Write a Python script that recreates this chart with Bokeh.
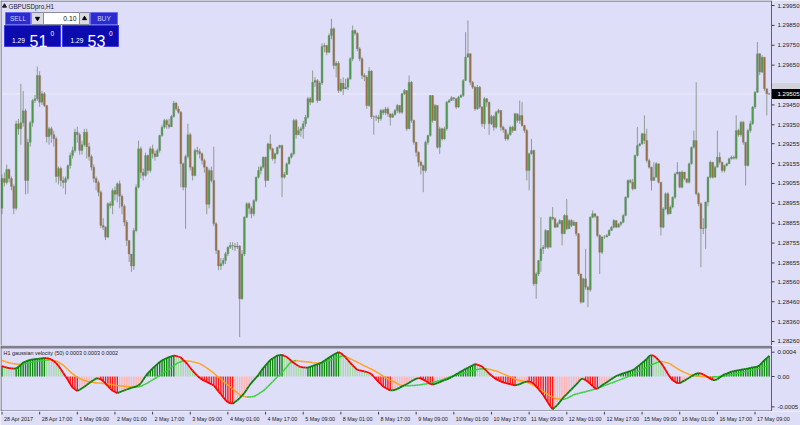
import numpy as np
from bokeh.plotting import figure
from bokeh.models import Range1d
from bokeh.layouts import column
from bokeh.core.properties import value
from bokeh.embed import file_html
from bokeh.resources import INLINE

# ---------------- data ----------------
symbol_title = "GBPUSDpro,H1"
indicator_title = "H1 gaussian velocity (50) 0.0003 0.0003 0.0002"
lot_size = "0.10"
quote_prefix = "1.29"
sell_big = "51"
buy_big = "53"
quote_suffix = "0"
bid_price = 1.29505

time_labels = ["28 Apr 2017", "28 Apr 17:00", "1 May 09:00", "2 May 01:00", "2 May 17:00",
               "3 May 09:00", "4 May 01:00", "4 May 17:00", "5 May 09:00", "8 May 01:00",
               "8 May 17:00", "9 May 09:00", "10 May 01:00", "10 May 17:00", "11 May 09:00",
               "12 May 01:00", "12 May 17:00", "15 May 09:00", "16 May 01:00", "16 May 17:00",
               "17 May 09:00"]
bars_per_label = 16

price_ticks = [1.29950, 1.29850, 1.29750, 1.29650, 1.29550, 1.29450, 1.29350, 1.29255, 1.29155,
               1.29055, 1.28955, 1.28855, 1.28755, 1.28655, 1.28560, 1.28460, 1.28360, 1.28260]
vel_ticks = [0.0004, 0.0, -0.0005]
vel_tick_labels = ["0.0004", "0.00", "-0.0005"]

# prices in points above 1.28000
base_price = 1.28
first_open_pts = 930
close_pts = [
    1080, 1060, 1125, 1080, 1040, 930, 1355, 1330, 1360, 1420, 1070, 1262, 1360, 1472, 1481, 1598,
    1464, 1506, 1447, 1290, 1330, 1300, 1280, 1090, 1130, 1070, 1060, 1080, 1145, 1196, 1221, 1313,
    1300, 1221, 1250, 1313, 1240, 1190, 1137, 1080, 1060, 1011, 844, 835, 785, 953, 944, 1020, 1000,
    1053, 990, 940, 860, 768, 700,
    640, 818, 1036, 1229, 1110, 1095, 1196, 1120, 1229, 1204, 1190, 1221, 1296, 1338, 1372, 1350,
    1340, 1392, 1459, 1430, 1413, 1154, 1036, 1190, 1300, 1137, 1095, 1221, 1215, 1204, 1170, 1137,
    950, 1120, 1070, 852, 718, 640, 651, 667, 701, 734, 743, 740, 735, 740, 475, 700, 885, 953, 930,
    902, 969, 1086, 1120,
    1137, 1187, 1070, 1254, 1229, 1179, 1204, 1237, 1246, 1086, 1100, 1154, 1187, 1204, 1372, 1300,
    1321, 1330, 1355, 1388, 1481, 1464, 1564, 1573, 1472, 1560, 1744, 1749, 1715, 1799, 1833, 1648,
    1660, 1522, 1560, 1530, 1539, 1581, 1682, 1824, 1810, 1732, 1682, 1598, 1590, 1447, 1620, 1390,
    1390, 1388, 1380, 1422, 1410, 1430, 1405,
    1388, 1402, 1422, 1447, 1413, 1506, 1522, 1330, 1564, 1372, 1262, 1212, 1162, 1145, 1120, 1262,
    1296, 1497, 1372, 1447, 1237, 1330, 1279, 1330, 1464, 1472, 1486, 1481, 1439, 1489, 1497, 1573,
    1690, 1707, 1564, 1539, 1430, 1539, 1439, 1355, 1481, 1464, 1355, 1392, 1338, 1413, 1422, 1338,
    1325, 1279, 1300, 1338, 1321, 1405,
    1372, 1397, 1346, 1321, 1120, 1204, 1221, 550, 600, 667, 726, 734, 818, 734, 885, 877, 835, 852,
    868, 802, 894, 827, 868, 844, 860, 802, 600, 458, 575, 533, 520, 885, 902, 890, 793, 709, 785,
    785, 793, 818, 835, 868, 835, 850, 860, 894, 986, 1070, 1061, 1028, 1196, 1246, 1254, 1305,
    1271, 1170, 1137, 1070, 1086, 1154, 1061, 835, 927, 1003, 902, 936, 986, 1103, 1112, 1036, 1112,
    1078, 1061, 1154, 1237, 1271, 1003, 953, 827, 830, 961, 1086, 1162, 1086, 1137, 1187, 1162, 1120,
    1145, 1154, 1179, 1187, 1182, 1321, 1300, 1363, 1262, 1145, 1321, 1355, 1439, 1514, 1707, 1615,
    1690, 1531, 1506, 1505]
high_pts = [
    1100, 1110, 1150, 1130, 1090, 1050, 1370, 1380, 1556, 1520, 1430, 1280, 1370, 1480, 1500, 1643,
    1620, 1520, 1515, 1450, 1340, 1340, 1320, 1290, 1140, 1140, 1090, 1090, 1150, 1210, 1240, 1330,
    1340, 1310, 1270, 1330, 1330, 1260, 1200, 1150, 1090, 1070, 1020, 880, 840, 960, 965, 1030, 1040,
    1060, 1070, 1000, 950, 870, 770,
    700, 830, 1050, 1271, 1240, 1130, 1210, 1200, 1240, 1250, 1220, 1230, 1300, 1350, 1380, 1380,
    1380, 1400, 1470, 1465, 1445, 1420, 1160, 1200, 1355, 1310, 1140, 1230, 1240, 1230, 1210, 1180,
    1140, 1130, 1140, 1240, 860, 720, 680, 680, 710, 740, 760, 760, 755, 760, 745, 720, 890, 960,
    960, 940, 975, 1090, 1140,
    1145, 1190, 1190, 1260, 1301, 1235, 1210, 1240, 1250, 1250, 1112, 1160, 1190, 1210, 1380, 1380,
    1340, 1340, 1370, 1400, 1490, 1490, 1623, 1590, 1580, 1570, 1760, 1760, 1750, 1810, 1883, 1840,
    1670, 1670, 1581, 1589, 1581, 1590, 1690, 1849, 1830, 1815, 1740, 1690, 1610, 1600, 1640, 1625,
    1397, 1400, 1400, 1430, 1430, 1440, 1440,
    1400, 1410, 1430, 1455, 1450, 1510, 1530, 1525, 1598, 1570, 1375, 1265, 1215, 1170, 1150, 1270,
    1300, 1500, 1500, 1455, 1450, 1340, 1335, 1340, 1470, 1480, 1495, 1490, 1485, 1495, 1505, 1580,
    1816, 1875, 1710, 1570, 1545, 1550, 1545, 1445, 1490, 1485, 1465, 1400, 1400, 1420, 1430, 1420,
    1345, 1330, 1310, 1345, 1345, 1410,
    1390, 1472, 1464, 1350, 1330, 1210, 1279, 1225, 610, 670, 885, 745, 825, 818, 890, 936, 885, 860,
    875, 872, 900, 977, 875, 875, 870, 860, 805, 600, 580, 726, 540, 890, 919, 905, 890, 800, 790,
    795, 800, 825, 840, 875, 870, 855, 865, 900, 990, 1075, 1078, 1078, 1200, 1338, 1260, 1310,
    1397, 1330, 1180, 1140, 1162, 1162, 1150, 1061, 935, 1010, 1011, 945, 990, 1110, 1162, 1115,
    1120, 1112, 1080, 1160, 1240, 1321, 1564, 1010, 960, 880, 965, 1090, 1170, 1162, 1145, 1321,
    1212, 1165, 1150, 1160, 1185, 1195, 1195, 1397, 1330, 1370, 1370, 1262, 1330, 1370, 1445, 1520,
    1766, 1710, 1700, 1690, 1531, 1510]
low_pts = [
    900, 1040, 1050, 1060, 1020, 900, 920, 1300, 1250, 1340, 1000, 1003, 1240, 1340, 1460, 1470,
    1440, 1450, 1440, 1260, 1250, 1260, 1240, 1060, 1050, 1040, 1030, 1000, 1070, 1130, 1180, 1210,
    1260, 1200, 1200, 1240, 1180, 1170, 1120, 1060, 1020, 990, 830, 820, 770, 780, 930, 900, 970,
    960, 930, 900, 840, 740, 660,
    610, 620, 810, 1030, 1080, 1070, 1090, 1100, 1110, 1180, 1170, 1200, 1210, 1290, 1330, 1330,
    1330, 1370, 1385, 1420, 1405, 1036, 1020, 827, 1180, 1120, 1070, 1090, 1200, 1180, 1150, 1110,
    900, 930, 1060, 840, 700, 620, 620, 640, 650, 690, 725, 720, 715, 725, 282, 470, 690, 880, 900,
    880, 890, 960, 1080,
    1100, 1130, 1036, 1070, 1220, 1170, 1155, 1200, 1230, 986, 1080, 1105, 1150, 1180, 1196, 1280,
    1300, 1290, 1280, 1340, 1380, 1450, 1460, 1540, 1460, 1470, 1550, 1715, 1700, 1710, 1780, 1630,
    1589, 1510, 1514, 1500, 1530, 1525, 1575, 1670, 1800, 1720, 1670, 1580, 1570, 1430, 1440, 1380,
    1300, 1370, 1360, 1370, 1400, 1400, 1390,
    1346, 1385, 1395, 1410, 1405, 1405, 1500, 1320, 1330, 1360, 1250, 1190, 1140, 1100, 1011, 1110,
    1250, 1290, 1360, 1370, 1230, 1204, 1270, 1275, 1320, 1460, 1470, 1470, 1430, 1435, 1485, 1490,
    1570, 1690, 1550, 1530, 1420, 1425, 1430, 1340, 1330, 1440, 1300, 1350, 1320, 1330, 1405, 1320,
    1310, 1270, 1270, 1295, 1310, 1320,
    1360, 1355, 1340, 1310, 1070, 1020, 1200, 540, 475, 590, 610, 700, 726, 725, 785, 870, 830, 844,
    850, 743, 800, 820, 850, 835, 850, 790, 590, 450, 455, 520, 433, 510, 880, 880, 785, 600, 700,
    776, 785, 790, 818, 830, 830, 840, 840, 855, 890, 980, 1055, 1020, 1025, 1190, 1240, 1250,
    1254, 1160, 1130, 1020, 1080, 1140, 1055, 793, 830, 920, 895, 905, 930, 977, 1100, 1030, 1030,
    1070, 1055, 1055, 1150, 1230, 995, 940, 634, 800, 726, 940, 1080, 1080, 1110, 1140, 1150, 1110,
    1110, 1140, 1155, 1175, 1175, 1175, 1290, 1290, 1250, 1045, 1140, 1310, 1350, 1430, 1510, 1600,
    1610, 1520, 1397, 1500]

# gaussian velocity and its signal line, in units of 0.00001
velocity_e5 = [
    17.2, 15.9, 14.5, 13.9, 13.5, 13.0, 13.3, 16.0, 19.3, 23.1,
    24.6, 26.0, 27.3, 28.0, 28.5, 29.1, 29.6, 30.0, 30.5, 30.4,
    29.6, 28.0, 25.0, 22.1, 17.6, 11.8, 6.0, 0.2, -5.9, -12.2,
    -18.1, -21.2, -24.0, -21.7, -19.4, -16.9, -14.0, -11.1, -8.3, -5.8,
    -3.3, -3.1, -4.6, -7.4, -11.8, -16.0, -19.9, -23.4, -25.5, -27.3,
    -25.8, -24.3, -22.7, -21.4, -20.0, -18.8, -17.6, -16.5, -14.4, -11.3,
    -5.4, 0.4, 5.6, 9.4, 13.3, 17.0, 20.5, 24.0, 26.5, 28.4,
    30.4, 31.8, 33.2, 34.5, 33.8, 32.5, 31.3, 27.4, 23.6, 19.4,
    14.5, 9.7, 5.3, 1.4, -2.5, -5.1, -7.0, -9.0, -10.9, -12.8,
    -14.8, -19.5, -24.4, -29.3, -34.1, -38.9, -42.7, -43.9, -44.7, -42.1,
    -39.3, -35.4, -31.6, -27.2, -21.5, -15.6, -10.4, -6.1, -1.9, 3.0,
    8.5, 13.9, 18.4, 22.7, 27.0, 29.7, 32.2, 34.6, 35.1, 35.7,
    34.0, 32.2, 29.0, 25.5, 22.1, 19.7, 17.4, 15.3, 14.9, 14.5,
    14.7, 16.0, 17.4, 18.8, 20.1, 21.5, 23.6, 26.1, 28.7, 31.1,
    33.7, 36.2, 38.3, 40.2, 38.2, 35.4, 31.3, 26.9, 22.5, 18.5,
    14.6, 10.9, 10.2, 9.4, 8.5, 7.4, 6.2, 3.8, -0.4, -4.7,
    -8.7, -12.6, -16.5, -19.0, -20.9, -22.8, -22.6, -22.1, -20.4, -18.3,
    -16.3, -14.3, -12.4, -10.2, -7.8, -5.5, -4.0, -2.4, -3.6, -5.1,
    -7.2, -9.9, -12.3, -13.5, -12.1, -10.8, -9.3, -7.7, -6.1, -4.6,
    -3.1, -1.2, 1.2, 3.5, 5.8, 8.1, 10.4, 12.5, 14.4, 16.4,
    18.4, 20.5, 19.6, 18.0, 16.5, 12.6, 8.7, 4.9, 1.6, -1.6,
    -4.5, -6.4, -8.3, -9.8, -10.8, -11.7, -12.7, -13.7, -14.7, -13.7,
    -12.4, -11.0, -9.4, -7.9, -8.4, -9.2, -12.3, -16.2, -20.7, -25.5,
    -30.4, -36.6, -43.0, -49.0, -53.9, -50.4, -47.0, -42.1, -37.3, -32.8,
    -28.9, -25.0, -21.1, -17.2, -13.4, -9.0, -4.3, -3.6, -6.1, -8.6,
    -12.0, -15.8, -19.4, -20.3, -17.1, -14.5, -12.0, -9.5, -6.9, -4.3,
    -1.8, 0.8, 2.5, 3.8, 5.1, 6.4, 7.7, 9.1, 10.4, 12.8,
    16.0, 19.1, 22.5, 25.6, 28.9, 33.7, 35.4, 33.9, 31.2, 26.9,
    22.6, 17.1, 10.6, 4.2, -1.5, -6.3, -8.6, -10.9, -11.0, -8.9,
    -6.8, -4.4, -2.1, 0.3, 2.9, 4.7, 5.7, 5.2, 3.3, 1.2,
    -1.1, -3.5, -5.8, -5.8, -4.5, -1.5, 1.1, 3.7, 4.8, 6.4,
    8.0, 8.9, 9.7, 10.4, 11.1, 11.7, 12.4, 13.1, 14.1, 15.0,
    15.6, 16.3, 18.6, 22.8, 26.8, 30.4, 34.0]
signal_e5 = [
    26.6, 25.2, 23.9, 22.8, 21.9, 20.9, 20.5, 20.1, 19.9, 20.6,
    21.4, 22.2, 22.9, 23.8, 24.5, 25.3, 26.1, 26.5, 26.8, 27.0,
    27.3, 27.1, 26.4, 25.6, 23.9, 21.3, 18.8, 15.3, 11.4, 7.6,
    4.6, 1.6, -1.2, -3.2, -5.1, -6.8, -7.8, -8.7, -9.5, -9.9,
    -10.3, -10.7, -11.0, -11.4, -11.8, -12.3, -12.9, -13.6, -14.2, -14.8,
    -15.3, -15.6, -16.0, -16.4, -16.8, -17.2, -17.6, -17.2, -16.8, -16.2,
    -14.3, -12.4, -10.3, -8.0, -5.6, -3.3, -0.9, 1.6, 4.2, 6.8,
    9.4, 12.2, 15.0, 17.8, 20.7, 22.8, 24.4, 25.9, 26.1, 25.7,
    25.3, 24.3, 23.3, 22.2, 21.2, 19.2, 16.6, 14.0, 11.5, 8.6,
    5.4, 2.1, -1.1, -4.3, -7.6, -10.8, -14.0, -17.2, -20.5, -23.7,
    -26.9, -30.1, -31.9, -32.9, -33.8, -33.7, -33.3, -32.9, -31.1, -28.7,
    -26.2, -23.7, -20.3, -16.4, -12.5, -8.6, -4.7, -0.9, 3.0, 6.9,
    11.0, 15.8, 20.6, 24.1, 25.4, 26.2, 25.7, 25.3, 24.8, 24.3,
    23.8, 23.3, 22.8, 22.4, 22.2, 22.0, 22.8, 24.0, 25.3, 26.6,
    27.8, 29.0, 30.4, 31.6, 32.9, 34.3, 33.2, 31.2, 29.3, 27.3,
    25.4, 23.5, 21.5, 19.6, 17.7, 15.8, 13.8, 11.9, 9.9, 8.0,
    5.7, 3.1, 0.5, -2.0, -4.5, -6.0, -7.7, -9.3, -11.8, -13.8,
    -15.0, -15.3, -15.2, -15.1, -14.9, -14.8, -14.3, -13.8, -13.4, -12.9,
    -12.4, -11.7, -10.8, -9.8, -8.8, -7.9, -6.9, -5.6, -4.1, -2.7,
    -1.3, 0.2, 1.6, 2.6, 3.6, 4.6, 5.5, 6.5, 7.5, 8.5,
    9.4, 10.4, 11.4, 12.4, 12.6, 12.6, 12.6, 11.9, 11.0, 10.0,
    9.1, 7.7, 6.0, 4.3, 2.7, 1.0, -0.7, -2.4, -4.1, -5.6,
    -6.5, -7.4, -8.3, -9.2, -11.1, -13.0, -14.9, -16.9, -19.3, -21.9,
    -24.5, -27.0, -29.6, -32.2, -34.4, -36.1, -36.8, -37.2, -37.6, -37.6,
    -36.0, -34.1, -32.1, -29.9, -28.9, -27.9, -26.9, -26.0, -25.0, -24.0,
    -23.1, -21.7, -20.5, -19.2, -17.9, -16.5, -15.0, -13.6, -12.1, -10.7,
    -9.2, -7.7, -6.3, -4.8, -3.3, -1.9, -0.3, 1.6, 3.6, 5.5,
    7.5, 9.4, 11.4, 13.3, 15.3, 17.2, 19.2, 21.0, 22.4, 23.8,
    24.9, 24.5, 23.3, 22.1, 20.8, 18.1, 15.6, 13.0, 10.4, 8.6,
    6.9, 5.2, 3.5, 2.4, 1.8, 1.1, 0.4, -0.1, -0.3, -0.6,
    -0.9, -1.1, -0.8, -0.5, -0.3, -0.1, 0.5, 1.0, 1.6, 2.3,
    2.8, 3.5, 4.4, 5.3, 6.2, 7.2, 8.1, 9.0, 10.0, 10.8,
    11.7, 12.7, 13.8, 14.8, 15.9, 17.0, 18.1]

# ---------------- styling / layout ----------------
BG = "#dedef8"
SEP = "#7e7e8c"
FRAME = "#5e5e6e"
TXT = "#1c1c1c"
FONT = "Liberation Sans"
SMALL = "6.1px"
TINY = "5.4px"
WICK = "#8e9c94"
BULL = "#4b9b45"
BEAR = "#9c6c42"

CW = 800
H_MAIN, H_IND, H_TIME = 345, 66, 14     # indicator panel includes the 3px separator on top
REF_FRAME_W = 771.0

X0, X1 = -0.64, 327.0                     # bar range covered by the chart frame
XR = X0 + CW / REF_FRAME_W * (X1 - X0)     # extends the range under the price scale area
Y0, Y1 = 1.282398, 1.299752
V0, V1 = -0.000576, 0.000461               # indicator values at the panel's bottom / top edge
VTOP = V1 + 3.0 / 63.0 * (V1 - V0)

def fx(px):
    return X0 + px / REF_FRAME_W * (X1 - X0)
def fy(py):
    return Y1 - py / float(H_MAIN) * (Y1 - Y0)
def fyq(py):
    return V1 - (py - 348.0) / 63.0 * (V1 - V0)

# ---------------- derived arrays ----------------
c = base_price + np.array(close_pts) / 1e5
o = np.concatenate([[base_price + first_open_pts / 1e5], c[:-1]])
h = np.maximum(base_price + np.array(high_pts) / 1e5, np.maximum(o, c))
l = np.minimum(base_price + np.array(low_pts) / 1e5, np.minimum(o, c))
n = len(c)
idx = np.arange(n)
body_top = np.maximum(o, c)
body_bot = np.minimum(o, c)
body_col = [BULL if cc >= oo else BEAR for oo, cc in zip(o, c)]

v = np.array(velocity_e5) * 1e-5
s = np.array(signal_e5) * 1e-5
v_prev = np.concatenate([[v[0]], v[:-1]])
hist_col = []
for a, b in zip(v, v_prev):
    if a >= 0:
        hist_col.append("#0b8a0b" if a >= b else "#a8d8a8")
    else:
        hist_col.append("#ff1a1a" if a < b else "#ffb4b4")
vel_seg_col = ["#0a7f0a" if b >= a else "#ff0000" for a, b in zip(v[:-1], v[1:])]
sig_seg_col = ["#3ccf3c" if b >= a else "#ffa31a" for a, b in zip(s[:-1], s[1:])]

xr = Range1d(X0, XR)

def make_fig(height, yr):
    f = figure(width=CW, height=height, x_range=xr, y_range=yr,
               x_axis_location=None, y_axis_location=None,
               output_backend="svg", toolbar_location=None,
               background_fill_color=BG, border_fill_color=BG,
               min_border_left=0, min_border_right=0, min_border_top=0, min_border_bottom=0)
    f.grid.visible = False
    f.outline_line_color = None
    return f

def add_text(f, xs, ys, texts, size, color, align="left", baseline="middle", x_offset=0):
    f.text(x=xs, y=ys, text=texts, text_font=value(FONT), text_font_size=value(size),
           text_color=color, text_align=align, text_baseline=baseline, x_offset=x_offset)

# ---------------- main price chart ----------------
p = make_fig(H_MAIN, Range1d(Y0, Y1))

p.segment(x0=[X0], y0=[bid_price], x1=[X1], y1=[bid_price], line_color="#efeffb", line_width=1)
p.segment(x0=idx, y0=l, x1=idx, y1=h, line_color=WICK, line_width=1)
p.vbar(x=idx, top=body_top, bottom=body_bot, width=0.8, fill_color=body_col,
       line_color="#7c8c80", line_width=0.4)

# frame lines
p.segment(x0=[fx(0.5), X0, X1], y0=[Y0, fy(0.5), Y0], x1=[fx(0.5), X1, X1], y1=[Y1, fy(0.5), Y1],
          line_color=FRAME, line_width=1)

# price scale
p.segment(x0=[fx(771)] * len(price_ticks), y0=price_ticks, x1=[fx(774)] * len(price_ticks),
          y1=price_ticks, line_color="#404048", line_width=1)
add_text(p, [fx(777)] * len(price_ticks), price_ticks, ["%.5f" % t for t in price_ticks],
         SMALL, TXT)
# ask (grey) and bid (black) price boxes
p.quad(left=[fx(771.5)], right=[fx(800)], top=[fy(82.5)], bottom=[fy(88.5)],
       fill_color="#d2d2da", line_color=None)
p.quad(left=[fx(771.5)], right=[fx(800)], top=[fy(88.5)], bottom=[fy(98.5)],
       fill_color="black", line_color=None)
add_text(p, [fx(777)], [bid_price], ["%.5f" % bid_price], SMALL, "white")

# one-click trading panel (decoration)
boxes = [
    (5, 30, 12, 24, "#2b2bd0", "#6c6cf0"),
    (31, 43, 12, 24, "#dadae4", "#8a8aa0"),
    (43, 79, 12, 24, "#ffffff", "#8a8aa0"),
    (79, 89, 12, 24, "#dadae4", "#8a8aa0"),
    (90, 117, 12, 24, "#2b2bd0", "#6c6cf0"),
    (4, 60, 25, 46, "#0b0bb0", "#3a3ae6"),
    (62, 118, 25, 46, "#0b0bb0", "#3a3ae6"),
]
p.quad(left=[fx(b[0]) for b in boxes], right=[fx(b[1]) for b in boxes],
       top=[fy(b[2]) for b in boxes], bottom=[fy(b[3]) for b in boxes],
       fill_color=[b[4] for b in boxes], line_color=[b[5] for b in boxes], line_width=1)
p.scatter(x=[fx(37)], y=[fy(18)], marker="inverted_triangle", size=4, color="black")
p.scatter(x=[fx(84)], y=[fy(18)], marker="triangle", size=4, color="black")
p.scatter(x=[fx(4)], y=[fy(5.5)], marker="triangle", size=4, color="#202020")

def txt(px, py, t, size, color, align="left", baseline="middle"):
    add_text(p, [fx(px)], [fy(py)], [t], size, color, align, baseline)

txt(8, 5.5, symbol_title, "6.3px", TXT)
txt(17.5, 18, "SELL", "6.6px", "#cfd3ff", "center")
txt(103.5, 18, "BUY", "6.6px", "#cfd3ff", "center")
txt(76, 18, lot_size, "6.8px", "#101010", "right")
txt(11.5, 39.5, quote_prefix, "6.6px", "white", "left", "alphabetic")
txt(29, 40, sell_big, "16px", "white", "left", "alphabetic")
txt(50, 32.5, quote_suffix, "6.6px", "white", "left", "alphabetic")
txt(70, 39.5, quote_prefix, "6.6px", "white", "left", "alphabetic")
txt(87, 40, buy_big, "16px", "white", "left", "alphabetic")
txt(108.5, 32.5, quote_suffix, "6.6px", "white", "left", "alphabetic")

# ---------------- indicator (with separator band on top) ----------------
q = make_fig(H_IND, Range1d(V0, VTOP))
q.quad(left=[X0], right=[X1], top=[VTOP], bottom=[V1], fill_color=SEP, line_color=None)
q.vbar(x=idx, top=v, bottom=0, width=0.6, fill_color=hist_col, line_color=None)
q.segment(x0=idx[:-1], y0=s[:-1], x1=idx[1:], y1=s[1:], line_color=sig_seg_col, line_width=1.5)
q.segment(x0=idx[:-1], y0=v[:-1], x1=idx[1:], y1=v[1:], line_color=vel_seg_col, line_width=1.8)
q.segment(x0=[fx(0.5), X1, X0], y0=[V0, V0, fyq(410.5)], x1=[fx(0.5), X1, X1],
          y1=[VTOP, VTOP, fyq(410.5)], line_color=FRAME, line_width=1)
q.segment(x0=[fx(771)] * len(vel_ticks), y0=vel_ticks, x1=[fx(774)] * len(vel_ticks),
          y1=vel_ticks, line_color="#404048", line_width=1)
add_text(q, [fx(777)] * len(vel_ticks), vel_ticks, vel_tick_labels, SMALL, TXT)
add_text(q, [fx(3)], [fyq(352.5)], [indicator_title], TINY, TXT)

# ---------------- time scale ----------------
tl = make_fig(H_TIME, Range1d(0, H_TIME))
tick_bars = [k * bars_per_label for k in range(len(time_labels))]
tl.segment(x0=tick_bars, y0=[H_TIME] * len(tick_bars), x1=tick_bars,
           y1=[H_TIME - 3] * len(tick_bars), line_color="#404048", line_width=1)
add_text(tl, tick_bars, [H_TIME - 7.5] * len(tick_bars), time_labels, TINY, TXT, x_offset=2)

layout = column(p, q, tl)
open("out.html", "w").write(file_html(layout, INLINE))
